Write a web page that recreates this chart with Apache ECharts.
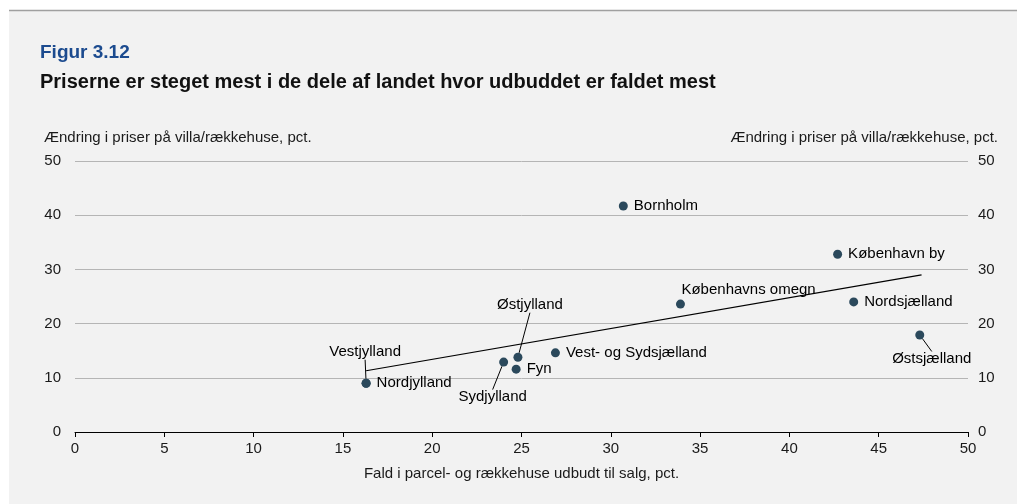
<!DOCTYPE html>
<html>
<head>
<meta charset="utf-8">
<script src="https://cdn.jsdelivr.net/npm/echarts@6/dist/echarts.min.js"></script>
<style>
html,body{margin:0;padding:0;background:#ffffff;}
#chart{width:1017px;height:504px;}
</style>
</head>
<body>
<div id="chart"></div>
<script>
// ---- data ----
var regions = ['Nordjylland','Vestjylland','Sydjylland','Østjylland','Fyn','Vest- og Sydsjælland','Bornholm','Københavns omegn','København by','Nordsjælland','Østsjælland'];
var xFald   = [16.3, 16.3, 24.0, 24.8, 24.7, 26.9, 30.7, 33.9, 42.7, 43.6, 47.3];
var yPris   = [9.0, 9.0, 12.9, 13.8, 11.6, 14.6, 41.7, 23.6, 32.8, 24.0, 17.9];
var trendX  = [16.3, 47.4];
var trendY  = [11.3, 29.0];
var xTicks  = [0, 5, 10, 15, 20, 25, 30, 35, 40, 45, 50];
var yTicks  = [0, 10, 20, 30, 40, 50];

// ---- label placement (styling, pixel offsets of label centre from point) ----
var labelPlace = {
  'Vestjylland':       {dx: -1,  dy: -31, line: true},
  'Østjylland':        {dx: 12,  dy: -52, line: true},
  'Sydjylland':        {dx: -11, dy: 35,  line: true},
  'Østsjælland':       {dx: 12,  dy: 24,  line: true},
  'Københavns omegn':  {dx: 1,   dy: -14, align: 'left'}
};

var FONT = '"Liberation Sans", Arial, sans-serif';
var data = regions.map(function (n, i) {
  var item = {name: n, value: [xFald[i], yPris[i]]};
  var p = labelPlace[n];
  if (p && p.line) item.labelLine = {show: true};
  return item;
});

var chart = echarts.init(document.getElementById('chart'), null, {renderer: 'canvas'});
chart.setOption({
  backgroundColor: '#ffffff',
  animation: false,
  textStyle: {fontFamily: FONT},
  graphic: [
    {type: 'rect', z: -10, shape: {x: 9, y: 10, width: 1008, height: 494}, style: {fill: '#f2f2f2'}},
    {type: 'line', z: -9, shape: {x1: 9, y1: 10.5, x2: 1017, y2: 10.5}, style: {stroke: '#a0a0a0', lineWidth: 1.5}}
  ],
  title: [
    {text: 'Figur 3.12', left: 35, top: 38, textStyle: {fontFamily: FONT, fontSize: 19, fontWeight: 'bold', color: '#1c4b8f'}},
    {text: 'Priserne er steget mest i de dele af landet hvor udbuddet er faldet mest', left: 35, top: 67,
     textStyle: {fontFamily: FONT, fontSize: 20, fontWeight: 'bold', color: '#111111'}}
  ],
  grid: {left: 75, right: 49, top: 161, bottom: 72, containLabel: false, outerBoundsMode: 'none'},
  xAxis: {
    type: 'value', min: 0, max: 50, interval: 5,
    name: 'Fald i parcel- og rækkehuse udbudt til salg, pct.',
    nameLocation: 'middle', nameGap: 34,
    nameTextStyle: {fontFamily: FONT, fontSize: 15, color: '#1a1a1a'},
    axisLine: {show: true, onZero: false, lineStyle: {color: '#000000', width: 1}},
    axisTick: {show: true, length: 5, lineStyle: {color: '#000000'}},
    axisLabel: {margin: 9, fontFamily: FONT, fontSize: 15, color: '#1a1a1a',
      formatter: function (v) { return xTicks.indexOf(v) >= 0 ? String(v) : ''; }},
    splitLine: {show: false}
  },
  yAxis: [
    {
      type: 'value', min: 0, max: 50, interval: 10, position: 'left',
      name: 'Ændring i priser på villa/rækkehuse, pct.', nameLocation: 'end', nameGap: 16,
      nameTextStyle: {fontFamily: FONT, fontSize: 15, color: '#1a1a1a', align: 'left', padding: [0, 0, 0, -31]},
      axisLine: {show: false}, axisTick: {show: false},
      axisLabel: {margin: 14, fontFamily: FONT, fontSize: 15, color: '#1a1a1a',
        formatter: function (v) { return yTicks.indexOf(v) >= 0 ? String(v) : ''; }},
      splitLine: {show: true, lineStyle: {color: '#b5b5b5', width: 1}}
    },
    {
      type: 'value', min: 0, max: 50, interval: 10, position: 'right',
      name: 'Ændring i priser på villa/rækkehuse, pct.', nameLocation: 'end', nameGap: 16,
      nameTextStyle: {fontFamily: FONT, fontSize: 15, color: '#1a1a1a', align: 'right', padding: [0, -30, 0, 0]},
      axisLine: {show: false}, axisTick: {show: false},
      axisLabel: {margin: 10, fontFamily: FONT, fontSize: 15, color: '#1a1a1a',
        formatter: function (v) { return yTicks.indexOf(v) >= 0 ? String(v) : ''; }},
      splitLine: {show: false}
    }
  ],
  series: [
    {
      type: 'line', data: trendX.map(function (x, i) { return [x, trendY[i]]; }),
      symbol: 'none', silent: true, z: 3,
      lineStyle: {color: '#000000', width: 1.2}
    },
    {
      type: 'scatter', data: data, symbol: 'circle', symbolSize: 9, z: 4,
      itemStyle: {color: '#2b495c', opacity: 1},
      label: {show: true, position: 'right', distance: 6, formatter: '{b}',
        fontFamily: FONT, fontSize: 15, color: '#000000', opacity: 1},
      labelLine: {show: false, lineStyle: {color: '#000000', width: 1, opacity: 1}},
      labelLayout: function (params) {
        var name = regions[params.dataIndex];
        var p = labelPlace[name];
        if (!p) return {};
        var cx = params.rect.x + params.rect.width / 2;
        var cy = params.rect.y + params.rect.height / 2;
        if (p.align === 'left') {
          return {x: cx + p.dx, y: cy + p.dy, align: 'left', verticalAlign: 'middle'};
        }
        return {x: cx + p.dx, y: cy + p.dy, align: 'center', verticalAlign: 'middle'};
      }
    }
  ]
});
</script>
</body>
</html>
